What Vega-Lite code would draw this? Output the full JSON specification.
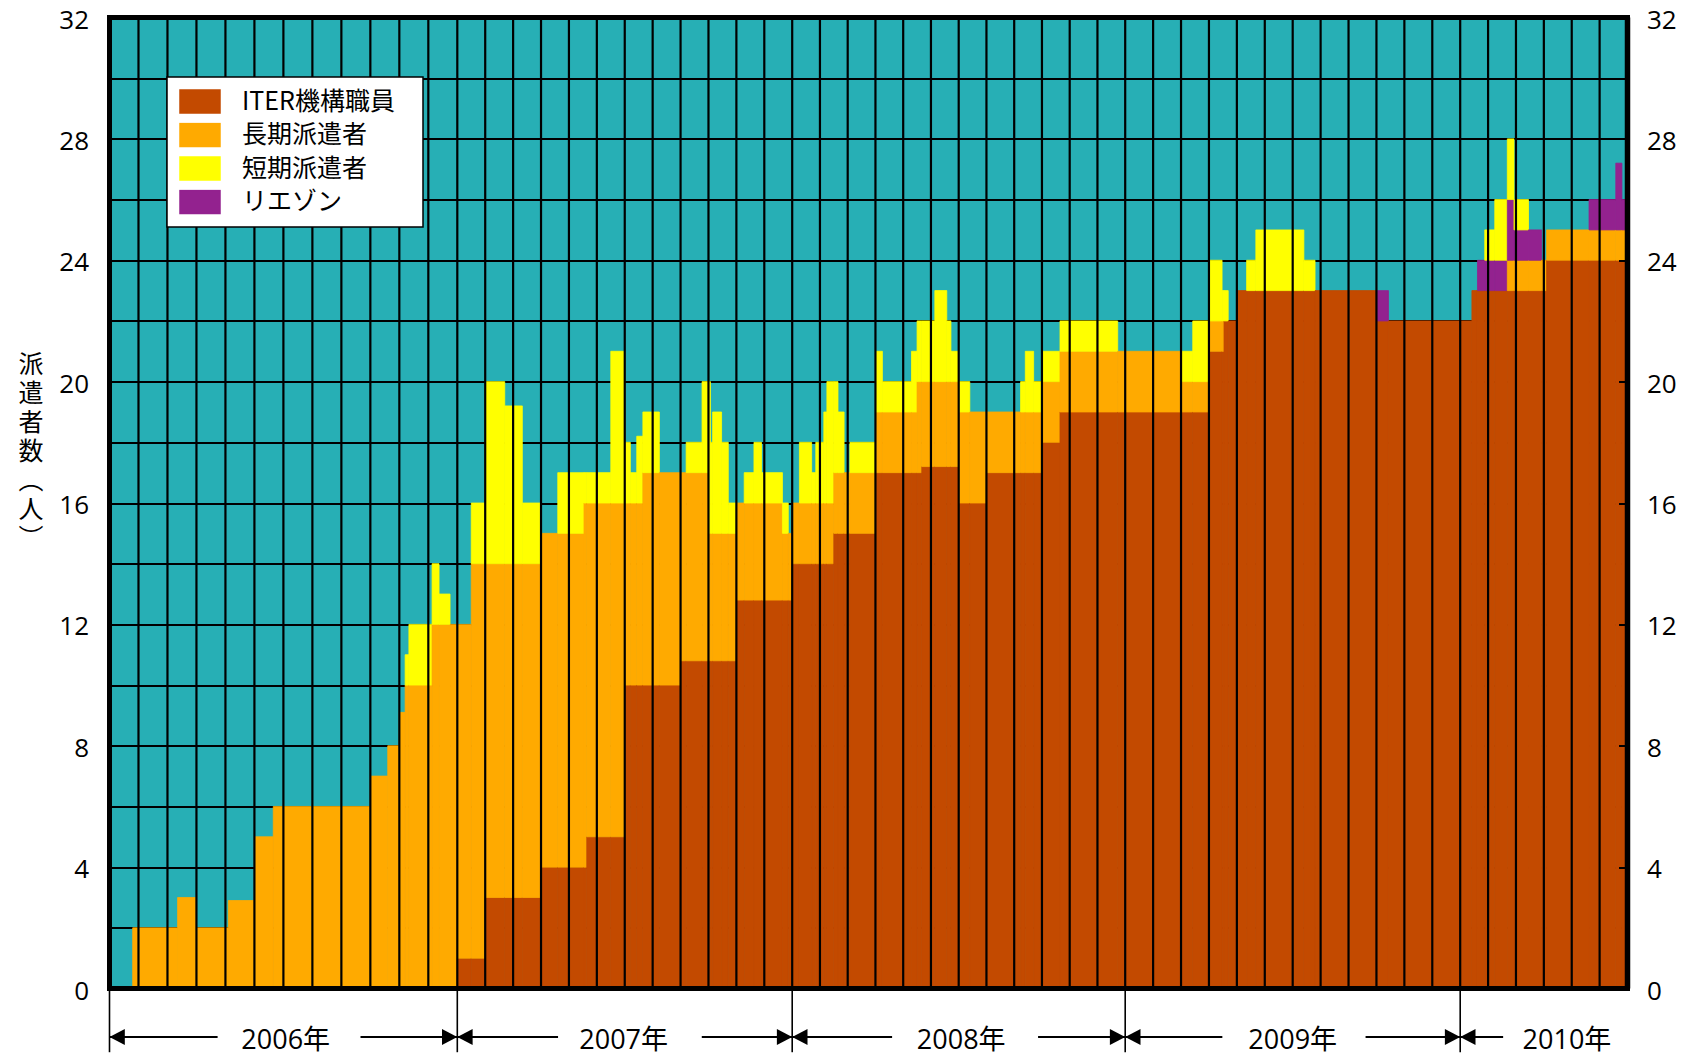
{
  "$schema": "https://vega.github.io/schema/vega-lite/v6.json",
  "width": 1518,
  "height": 971,
  "autosize": {"type": "none"},
  "padding": {"left": 109.5, "top": 17.5, "right": 61.5, "bottom": 67.5},
  "background": "white",
  "config": {
    "font": "Open Sans",
    "view": {"fill": "#27AFB5", "stroke": "black", "strokeWidth": 5},
    "legend": {"strokeWidth": 1.5}
  },
  "datasets": {
    "bars": [
      {"a":0.8,"b":2.35,"L":2},
      {"a":2.35,"b":3.0,"L":3},
      {"a":3.0,"b":4.1,"L":2},
      {"a":4.1,"b":5.0,"L":2.9},
      {"a":5.0,"b":5.65,"L":5},
      {"a":5.65,"b":9.0,"L":6},
      {"a":9.0,"b":9.6,"L":7},
      {"a":9.6,"b":10.0,"L":8},
      {"a":10.0,"b":10.2,"L":9.1},
      {"a":10.2,"b":10.33,"L":10,"S":1},
      {"a":10.33,"b":11.13,"L":10,"S":2},
      {"a":11.13,"b":11.37,"L":12,"S":2},
      {"a":11.37,"b":11.75,"L":12,"S":1},
      {"a":11.75,"b":12.0,"L":12},
      {"a":12.0,"b":12.5,"I":1,"L":11},
      {"a":12.5,"b":13.0,"I":1,"L":13,"S":2},
      {"a":13.0,"b":13.7,"I":3,"L":11,"S":6},
      {"a":13.7,"b":14.33,"I":3,"L":11,"S":5.2},
      {"a":14.33,"b":15.0,"I":3,"L":11,"S":2},
      {"a":15.0,"b":15.6,"I":4,"L":11},
      {"a":15.6,"b":16.54,"I":4,"L":11,"S":2},
      {"a":16.54,"b":16.64,"I":4,"L":12,"S":1},
      {"a":16.64,"b":17.5,"I":5,"L":11,"S":1},
      {"a":17.5,"b":18.0,"I":5,"L":11,"S":5},
      {"a":18.0,"b":18.2,"I":10,"L":6,"S":2},
      {"a":18.2,"b":18.43,"I":10,"L":6,"S":1},
      {"a":18.43,"b":18.65,"I":10,"L":6,"S":2.2},
      {"a":18.65,"b":19.24,"I":10,"L":7,"S":2},
      {"a":19.24,"b":20.0,"I":10,"L":7},
      {"a":20.0,"b":20.2,"I":10.8,"L":6.2},
      {"a":20.2,"b":20.77,"I":10.8,"L":6.2,"S":1},
      {"a":20.77,"b":21.0,"I":10.8,"L":6.2,"S":3},
      {"a":21.0,"b":21.07,"I":10.8,"L":4.2,"S":5},
      {"a":21.07,"b":21.15,"I":10.8,"L":4.2,"S":3},
      {"a":21.15,"b":21.47,"I":10.8,"L":4.2,"S":4},
      {"a":21.47,"b":21.71,"I":10.8,"L":4.2,"S":3},
      {"a":21.71,"b":22.0,"I":10.8,"L":4.2,"S":1},
      {"a":22.0,"b":22.28,"I":12.8,"L":3.2},
      {"a":22.28,"b":22.63,"I":12.8,"L":3.2,"S":1},
      {"a":22.63,"b":22.9,"I":12.8,"L":3.2,"S":2},
      {"a":22.9,"b":23.65,"I":12.8,"L":3.2,"S":1},
      {"a":23.65,"b":23.86,"I":12.8,"L":2.2,"S":1},
      {"a":23.86,"b":24.0,"I":12.8,"L":2.2},
      {"a":24.0,"b":24.26,"I":14,"L":2},
      {"a":24.26,"b":24.7,"I":14,"L":2,"S":2},
      {"a":24.7,"b":24.85,"I":14,"L":2,"S":1},
      {"a":24.85,"b":25.14,"I":14,"L":2,"S":2},
      {"a":25.14,"b":25.25,"I":14,"L":2,"S":3},
      {"a":25.25,"b":25.5,"I":14,"L":2,"S":4},
      {"a":25.5,"b":25.65,"I":15,"L":2,"S":3},
      {"a":25.65,"b":25.87,"I":15,"L":2,"S":2},
      {"a":25.87,"b":26.08,"I":15,"L":2},
      {"a":26.08,"b":27.0,"I":15,"L":2,"S":1},
      {"a":27.0,"b":27.25,"I":17,"L":2,"S":2},
      {"a":27.25,"b":28.3,"I":17,"L":2,"S":1},
      {"a":28.3,"b":28.5,"I":17,"L":2,"S":2},
      {"a":28.5,"b":28.67,"I":17,"L":3,"S":2},
      {"a":28.67,"b":29.14,"I":17.2,"L":2.8,"S":2},
      {"a":29.14,"b":29.57,"I":17.2,"L":2.8,"S":3},
      {"a":29.57,"b":29.72,"I":17.2,"L":2.8,"S":2},
      {"a":29.72,"b":30.0,"I":17.2,"L":2.8,"S":1},
      {"a":30.0,"b":30.4,"I":16,"L":3,"S":1},
      {"a":30.4,"b":31.0,"I":16,"L":3},
      {"a":31.0,"b":32.23,"I":17,"L":2},
      {"a":32.23,"b":32.4,"I":17,"L":2,"S":1},
      {"a":32.4,"b":32.7,"I":17,"L":2,"S":2},
      {"a":32.7,"b":33.0,"I":17,"L":2,"S":1},
      {"a":33.0,"b":33.65,"I":18,"L":2,"S":1},
      {"a":33.65,"b":35.73,"I":19,"L":2,"S":1},
      {"a":35.73,"b":36.0,"I":19,"L":2},
      {"a":36.0,"b":38.0,"I":19,"L":2},
      {"a":38.0,"b":38.42,"I":19,"L":1,"S":1},
      {"a":38.42,"b":39.0,"I":19,"L":1,"S":2},
      {"a":39.0,"b":39.47,"I":21,"L":1,"S":2},
      {"a":39.47,"b":39.54,"I":21,"L":1,"S":1},
      {"a":39.54,"b":39.69,"I":22,"S":1},
      {"a":39.69,"b":40.0,"I":22},
      {"a":40.0,"b":40.35,"I":23},
      {"a":40.35,"b":40.68,"I":23,"S":1},
      {"a":40.68,"b":42.4,"I":23,"S":2},
      {"a":42.4,"b":42.8,"I":23,"S":1},
      {"a":42.8,"b":45.0,"I":23},
      {"a":45.0,"b":45.43,"I":22,"R":1},
      {"a":45.43,"b":48.42,"I":22},
      {"a":48.42,"b":48.62,"I":23},
      {"a":48.62,"b":48.88,"I":23,"R":1},
      {"a":48.88,"b":49.24,"I":23,"R":1,"S":1},
      {"a":49.24,"b":49.69,"I":23,"R":1,"S":2},
      {"a":49.69,"b":49.93,"I":23,"L":1,"R":2,"S":2},
      {"a":49.93,"b":50.45,"I":23,"L":1,"R":1,"S":1},
      {"a":50.45,"b":50.92,"I":23,"L":1,"R":1},
      {"a":50.92,"b":51.1,"I":23,"L":1},
      {"a":51.1,"b":52.62,"I":24,"L":1},
      {"a":52.62,"b":53.58,"I":24,"L":1,"R":1},
      {"a":53.58,"b":53.8,"I":24,"L":1,"R":2.2},
      {"a":53.8,"b":54.0,"I":24,"L":1,"R":1}
    ],
    "cats": [
      {"key":"I","c":"ITER機構職員","k":1},
      {"key":"L","c":"長期派遣者","k":2},
      {"key":"R","c":"リエゾン","k":3},
      {"key":"S","c":"短期派遣者","k":4}
    ],
    "months": [
      {"m":1},{"m":2},{"m":3},{"m":4},{"m":5},{"m":6},{"m":7},{"m":8},{"m":9},{"m":10},
      {"m":11},{"m":12},{"m":13},{"m":14},{"m":15},{"m":16},{"m":17},{"m":18},{"m":19},{"m":20},
      {"m":21},{"m":22},{"m":23},{"m":24},{"m":25},{"m":26},{"m":27},{"m":28},{"m":29},{"m":30},
      {"m":31},{"m":32},{"m":33},{"m":34},{"m":35},{"m":36},{"m":37},{"m":38},{"m":39},{"m":40},
      {"m":41},{"m":42},{"m":43},{"m":44},{"m":45},{"m":46},{"m":47},{"m":48},{"m":49},{"m":50},
      {"m":51},{"m":52},{"m":53}
    ],
    "bounds": [{"m":0},{"m":12},{"m":24},{"m":36},{"m":48}],
    "arrows": [
      {"a":0,"b":3.73},{"a":8.66,"b":12},
      {"a":12,"b":15.61},{"a":20.76,"b":24},
      {"a":24,"b":27.6},{"a":32.86,"b":36},
      {"a":36,"b":39.48},{"a":44.61,"b":48},
      {"a":48,"b":49.54}
    ],
    "heads": [
      {"m":0,"d":"left"},{"m":12,"d":"right"},{"m":12,"d":"left"},
      {"m":24,"d":"right"},{"m":24,"d":"left"},{"m":36,"d":"right"},
      {"m":36,"d":"left"},{"m":48,"d":"right"},{"m":48,"d":"left"}
    ],
    "years": [
      {"m":6.08,"t":"2006年"},{"m":17.96,"t":"2007年"},{"m":30.09,"t":"2008年"},
      {"m":42.0,"t":"2009年"},{"m":51.83,"t":"2010年"}
    ]
  },
  "layer": [
    {
      "data": {"name": "bars"},
      "transform": [
        {"fold": ["I","L","R","S"], "as": ["key","n"]},
        {"filter": "datum.n > 0"},
        {"lookup": "key", "from": {"data": {"name": "cats"}, "key": "key", "fields": ["c","k"]}},
        {"stack": "n", "groupby": ["a"], "sort": [{"field": "k", "order": "ascending"}], "as": ["y0","y1"]}
      ],
      "mark": {"type": "rect", "strokeWidth": 0.8},
      "encoding": {
        "x": {
          "field": "a", "type": "quantitative",
          "scale": {"domain": [0,12,24,36,48,54], "range": [0,347.8,682.7,1015.7,1350.7,1518], "nice": false, "zero": false},
          "axis": null
        },
        "x2": {"field": "b"},
        "y": {
          "field": "y0", "type": "quantitative",
          "scale": {"domain": [0,32], "nice": false, "zero": false},
          "axis": {
            "orient": "left",
            "values": [0,2,4,6,8,10,12,14,16,18,20,22,24,26,28,30,32],
            "labelExpr": "datum.value % 4 === 0 ? datum.label : ''",
            "grid": true, "gridColor": "black", "gridWidth": 2.2, "gridOpacity": 1,
            "ticks": false, "domain": false,
            "labelFont": "Open Sans", "labelFontSize": 26, "labelColor": "black", "labelPadding": 21, "labelOverlap": false, "labelOffset": 2.5,
            "title": ["派","遣","者","数","︵","人","︶"],
            "titleAngle": 0, "titleFont": "Noto Sans CJK JP", "titleFontSize": 25, "titleFontWeight": "normal",
            "titleColor": "black", "titleLineHeight": 29, "titleX": -79, "titleY": 347,
            "titleAlign": "center", "titleBaseline": "middle"
          }
        },
        "y2": {"field": "y1"},
        "color": {
          "field": "c", "type": "nominal",
          "scale": {"domain": ["ITER機構職員","長期派遣者","短期派遣者","リエゾン"], "range": ["#C34A00","#FFAA00","#FFFF00","#93228F"]},
          "legend": {
            "orient": "none", "legendX": 57.5, "legendY": 59.5,
            "title": " ", "titleOrient": "right", "titlePadding": 16, "titleFontSize": 20,
            "fillColor": "white", "strokeColor": "black", "padding": 12,
            "symbolType": "M-1,-0.575L1,-0.575L1,0.575L-1,0.575Z", "symbolSize": 1600,
            "symbolStrokeColor": "black", "symbolStrokeWidth": 1.5, "symbolOpacity": 1,
            "clipHeight": 25, "rowPadding": 7.5,
            "labelFont": "Noto Sans CJK JP", "labelFontSize": 25, "labelOffset": 21, "labelColor": "black", "labelLimit": 400,
            "zindex": 2
          }
        },
        "stroke": {
          "field": "c", "type": "nominal",
          "scale": {"domain": ["ITER機構職員","長期派遣者","短期派遣者","リエゾン"], "range": ["#C34A00","#FFAA00","#FFFF00","#93228F"]},
          "legend": null
        }
      }
    },
    {
      "data": {"name": "months"},
      "mark": {"type": "rule", "color": "black", "strokeWidth": 2.2},
      "encoding": {
        "x": {"field": "m", "type": "quantitative", "scale": {"domain": [0,12,24,36,48,54], "range": [0,347.8,682.7,1015.7,1350.7,1518], "nice": false, "zero": false}, "axis": null},
        "y": {"datum": 0, "type": "quantitative", "axis": null},
        "y2": {"datum": 32}
      }
    },
    {
      "data": {"values": [{}]},
      "mark": {"type": "rule", "color": "black", "strokeWidth": 5},
      "encoding": {
        "x": {"datum": 0, "type": "quantitative", "scale": {"domain": [0,12,24,36,48,54], "range": [0,347.8,682.7,1015.7,1350.7,1518], "nice": false, "zero": false}, "axis": null},
        "x2": {"datum": 54},
        "y": {"datum": 0, "type": "quantitative", "axis": null}
      }
    },
    {
      "data": {"values": [{}]},
      "mark": {"type": "rule", "color": "black", "strokeWidth": 5.5},
      "encoding": {
        "x": {"datum": 54, "type": "quantitative", "scale": {"domain": [0,12,24,36,48,54], "range": [0,347.8,682.7,1015.7,1350.7,1518], "nice": false, "zero": false}, "axis": null},
        "y": {"datum": 0, "type": "quantitative", "axis": null},
        "y2": {"datum": 32}
      }
    },
    {
      "data": {"name": "bounds"},
      "mark": {"type": "rule", "color": "black", "strokeWidth": 1.6},
      "encoding": {
        "x": {"field": "m", "type": "quantitative", "scale": {"domain": [0,12,24,36,48,54], "range": [0,347.8,682.7,1015.7,1350.7,1518], "nice": false, "zero": false}, "axis": null},
        "y": {
          "datum": 0, "type": "quantitative",
          "axis": {
            "orient": "right", "values": [0,4,8,12,16,20,24,28,32],
            "grid": false, "domain": false,
            "ticks": true, "tickSize": -9, "tickWidth": 2, "tickColor": "black",
            "labelPadding": 28, "labelFont": "Open Sans", "labelFontSize": 26, "labelColor": "black", "labelOverlap": false, "labelOffset": 2.5,
            "title": null, "zindex": 1
          }
        },
        "y2": {"datum": -2.1}
      }
    },
    {
      "data": {"name": "arrows"},
      "mark": {"type": "rule", "color": "black", "strokeWidth": 2},
      "encoding": {
        "x": {"field": "a", "type": "quantitative", "scale": {"domain": [0,12,24,36,48,54], "range": [0,347.8,682.7,1015.7,1350.7,1518], "nice": false, "zero": false}, "axis": null},
        "x2": {"field": "b"},
        "y": {"datum": -1.6, "type": "quantitative", "axis": null}
      }
    },
    {
      "data": {"name": "heads"},
      "mark": {"type": "point", "filled": true, "opacity": 1, "color": "black", "size": 260},
      "encoding": {
        "x": {"field": "m", "type": "quantitative", "scale": {"domain": [0,12,24,36,48,54], "range": [0,347.8,682.7,1015.7,1350.7,1518], "nice": false, "zero": false}, "axis": null},
        "y": {"datum": -1.6, "type": "quantitative", "axis": null},
        "shape": {"field": "d", "type": "nominal", "scale": {"domain": ["left","right"], "range": ["M0,0L1.9,-1L1.9,1Z","M0,0L-1.9,-1L-1.9,1Z"]}, "legend": null}
      }
    },
    {
      "data": {"name": "years"},
      "mark": {"type": "text", "font": "Open Sans, Noto Sans CJK JP", "fontSize": 27, "color": "black", "align": "center", "baseline": "middle"},
      "encoding": {
        "x": {"field": "m", "type": "quantitative", "scale": {"domain": [0,12,24,36,48,54], "range": [0,347.8,682.7,1015.7,1350.7,1518], "nice": false, "zero": false}, "axis": null},
        "y": {"datum": -1.74, "type": "quantitative", "axis": null},
        "text": {"field": "t"}
      }
    }
  ],
  "resolve": {"axis": {"y": "independent"}}
}
